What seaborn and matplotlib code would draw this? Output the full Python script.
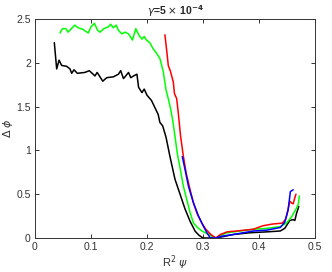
import numpy as np
import pandas as pd
import matplotlib
matplotlib.use("Agg")
import matplotlib.pyplot as plt
import seaborn as sns

black_x = [0.0345,0.0387,0.043,0.0476,0.0565,0.0625,0.0655,0.0696,0.0756,0.089,0.097,0.107,0.111,0.121,0.128,0.140,0.149,0.153,0.158,0.162,0.167,0.171,0.176,0.182,0.185,0.191,0.195,0.200,0.208,0.214,0.220,0.223,0.228,0.234,0.241,0.250,0.259,0.268,0.277,0.286,0.293,0.300,0.324,0.354,0.384,0.414,0.438,0.446,0.452,0.455,0.461,0.464,0.467,0.471]
black_y = [2.23,1.93,2.03,1.97,1.96,1.93,1.88,1.92,1.88,1.89,1.91,1.85,1.89,1.79,1.83,1.84,1.87,1.91,1.82,1.85,1.89,1.83,1.85,1.87,1.72,1.66,1.70,1.63,1.57,1.49,1.41,1.32,1.28,1.15,0.93,0.67,0.50,0.33,0.19,0.077,0.03,0.0,0.0,0.04,0.06,0.07,0.08,0.11,0.17,0.20,0.21,0.20,0.28,0.36]

green_x = [0.0446,0.049,0.055,0.059,0.065,0.071,0.077,0.086,0.095,0.100,0.106,0.112,0.116,0.123,0.131,0.135,0.140,0.145,0.149,0.155,0.161,0.167,0.174,0.180,0.186,0.191,0.195,0.199,0.205,0.211,0.217,0.223,0.229,0.234,0.238,0.242,0.246,0.250,0.254,0.259,0.265,0.271,0.277,0.283,0.290,0.298,0.307,0.316,0.323,0.331,0.343,0.366,0.390,0.414,0.438,0.449,0.458,0.466,0.470,0.472]
green_y = [2.34,2.39,2.39,2.35,2.39,2.43,2.40,2.38,2.34,2.41,2.45,2.37,2.35,2.39,2.41,2.44,2.40,2.43,2.37,2.33,2.35,2.33,2.26,2.39,2.31,2.27,2.30,2.26,2.23,2.16,2.11,2.05,1.90,1.69,1.59,1.48,1.34,1.16,0.97,0.80,0.59,0.44,0.29,0.17,0.12,0.08,0.05,0.02,0.0,0.03,0.06,0.08,0.10,0.11,0.13,0.17,0.24,0.33,0.38,0.48]

red_x = [0.232,0.235,0.238,0.242,0.247,0.249,0.253,0.256,0.260,0.265,0.270,0.277,0.283,0.290,0.298,0.305,0.314,0.323,0.331,0.343,0.360,0.390,0.407,0.425,0.442,0.448,0.452,0.455,0.458,0.461,0.464,0.466]
red_y = [2.32,2.15,1.97,1.90,1.78,1.65,1.59,1.42,1.16,0.93,0.74,0.55,0.40,0.27,0.17,0.10,0.04,0.0,0.04,0.07,0.08,0.10,0.14,0.16,0.17,0.22,0.33,0.42,0.40,0.39,0.46,0.50]

blue_x = [0.263,0.268,0.274,0.283,0.292,0.301,0.307,0.313,0.323,0.333,0.354,0.390,0.414,0.438,0.446,0.452,0.456,0.461]
blue_y = [0.93,0.78,0.59,0.40,0.25,0.13,0.06,0.0,0.0,0.02,0.04,0.08,0.09,0.12,0.18,0.32,0.53,0.55]

series = [("black", black_x, black_y, "#000000"),
          ("green", green_x, green_y, "#00ff00"),
          ("red", red_x, red_y, "#ff0000"),
          ("blue", blue_x, blue_y, "#0000ff")]

sns.set_style("ticks")
plt.rcParams['font.family'] = ['Liberation Sans', 'DejaVu Sans']
plt.rcParams['mathtext.fontset'] = 'dejavusans'

fig = plt.figure(figsize=(3.32, 2.72), dpi=100)
ax = fig.add_axes([35/332, 1-238/272, 280/332, 219/272])

for name, xs, ys, col in series:
    df = pd.DataFrame({"x": xs, "y": ys})
    sns.lineplot(data=df, x="x", y="y", ax=ax, color=col, lw=1.1, sort=False, estimator=None)

ax.set_xlim(0, 0.5)
ax.set_ylim(0, 2.5)
ax.set_xticks([0, 0.1, 0.2, 0.3, 0.4, 0.5])
ax.set_xticklabels(["0", "0.1", "0.2", "0.3", "0.4", "0.5"])
ax.set_yticks([0, 0.5, 1, 1.5, 2, 2.5])
ax.set_yticklabels(["0", "0.5", "1", "1.5", "2", "2.5"])
ax.tick_params(direction="in", length=3, width=0.7, labelsize=7.5, colors="#333333",
               top=True, right=True, pad=3)
for s in ax.spines.values():
    s.set_visible(True)
    s.set_linewidth(0.7)
    s.set_color("#333333")
ax.set_xlabel(r"R$^2$ $\psi$", fontsize=8, color="#333333", labelpad=1)
ax.set_ylabel(r"$\Delta$ $\phi$", fontsize=8, color="#333333", labelpad=1)
ax.set_title(r"$\gamma$=5 $\times$ 10$^{\mathbf{-4}}$", fontsize=7.5, fontweight="bold", pad=3)

fig.savefig("out.png", dpi=100)
